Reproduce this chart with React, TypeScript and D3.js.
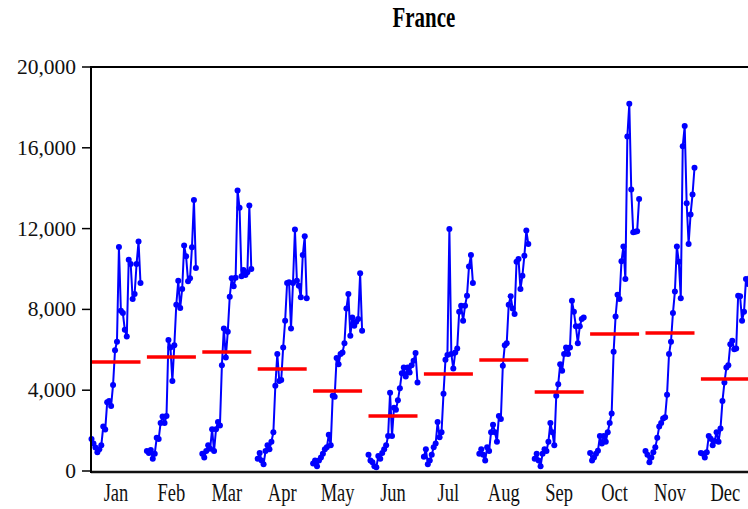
import React from 'react';
import * as d3 from 'd3';

// Month categories for the seasonal panels
const months = ['Jan', 'Feb', 'Mar', 'Apr', 'May', 'Jun', 'Jul', 'Aug', 'Sep', 'Oct', 'Nov', 'Dec'];

// Yearly observations for each calendar month, oldest first
const janValues = [1580, 1360, 1160, 930, 1080, 1270, 2200, 2050, 3400, 3460, 3220, 4260, 5980, 6400, 11090, 7930, 7820, 6990, 6660, 10460, 10250, 8510, 8760, 10250, 11360, 9310];
const febValues = [990, 890, 1040, 610, 860, 1640, 1580, 2380, 2700, 2380, 2720, 6480, 6120, 4460, 6230, 8230, 9420, 8070, 9010, 11160, 10630, 9390, 9540, 11080, 13420, 10050];
const marValues = [860, 670, 990, 1270, 1100, 2070, 990, 2070, 2420, 2250, 5240, 7060, 5620, 6890, 8630, 9540, 9140, 9570, 13890, 13030, 9640, 9950, 9700, 9840, 13140, 10000];
const aprValues = [610, 890, 520, 340, 990, 1270, 1080, 1450, 1920, 4220, 5790, 4460, 4510, 6120, 7440, 9310, 9340, 7060, 9310, 11950, 9420, 9170, 8600, 10690, 11620, 8550];
const mayValues = [370, 520, 240, 520, 670, 860, 1080, 1170, 1790, 1270, 3720, 3680, 5590, 5290, 5790, 5870, 6330, 8050, 8760, 6690, 7600, 7190, 7390, 7520, 9790, 6940];
const junValues = [800, 520, 430, 240, 190, 740, 610, 890, 1080, 1270, 1730, 3870, 1730, 3130, 3030, 3500, 4100, 4840, 5120, 4680, 5120, 4880, 5240, 5460, 5840, 4380];
const julValues = [710, 1080, 340, 520, 800, 1170, 1360, 2420, 1670, 1920, 3830, 5510, 5740, 11980, 5790, 5070, 5870, 6070, 7880, 8180, 7440, 8180, 8680, 10120, 10690, 9310];
const augValues = [860, 1080, 800, 520, 1170, 990, 1920, 2290, 1920, 1450, 2720, 2570, 5210, 6230, 6330, 8230, 8650, 8050, 7770, 10360, 10500, 9010, 9670, 10660, 11900, 11240];
const sepValues = [610, 860, 520, 240, 860, 1080, 990, 1450, 2380, 1920, 1270, 3720, 4300, 5290, 4960, 5790, 6120, 5790, 6120, 8430, 7880, 7160, 6330, 7160, 7520, 7600];
const octValues = [890, 520, 670, 860, 1000, 1730, 1360, 1730, 1450, 1920, 2380, 2850, 5900, 7650, 8730, 8510, 10380, 11120, 9500, 16560, 18180, 13940, 11820, 11850, 11870, 13470];
const novValues = [990, 800, 430, 670, 930, 1170, 1640, 2200, 2380, 2600, 2660, 3780, 5790, 6400, 7820, 8880, 11120, 10360, 8550, 16080, 17080, 13260, 11240, 12700, 13690, 15010];
const decValues = [890, 860, 670, 930, 1730, 1600, 1270, 1490, 1920, 1450, 2100, 3460, 4380, 5120, 5240, 6280, 6450, 6030, 6070, 8680, 8650, 7440, 7880, 9500, 9260, 9550];

// Mean level of each month across the years
const monthMeans = [5400, 5640, 5890, 5050, 3960, 2720, 4800, 5500, 3910, 6780, 6830, 4550];

// Y axis tick values
const yTicks = [0, 4000, 8000, 12000, 16000, 20000];

const seriesByMonth = [janValues, febValues, marValues, aprValues, mayValues, junValues, julValues, augValues, sepValues, octValues, novValues, decValues];

const FONT = '"Liberation Serif", "Times New Roman", serif';

export default function App() {
  const width = 748;
  const height = 509;
  const plotLeft = 91;
  const plotTop = 67;
  const plotBottom = 472;
  const panelWidth = 55.4;
  const plotRight = plotLeft + panelWidth * months.length;

  const x = d3.scaleBand<string>().domain(months).range([plotLeft, plotRight]).padding(0);
  const y = d3.scaleLinear().domain([0, 20000]).range([471, plotTop]);
  const fmt = d3.format(',');

  return (
    <svg
      width={width}
      height={height}
      style={{ position: 'absolute', left: 0, top: 0, background: '#fff' }}
      fontFamily={FONT}
    >
      <rect x={0} y={0} width={width} height={height} fill="#fff" />

      {/* title, drawn in a tall narrow face */}
      <g transform={`translate(${(plotLeft + plotRight) / 2 + 0.5},27) scale(0.95,1.35)`}>
        <text x={0} y={0} textAnchor="middle" fontSize={22} fontWeight="bold" fill="#000">
          France
        </text>
      </g>

      {/* seasonal sub-series */}
      {seriesByMonth.map((vals, m) => {
        const x0 = x(months[m]) as number;
        const xi = d3.scaleLinear().domain([0, vals.length - 1]).range([x0 + 0.5, x0 + 49.5]);
        const line = d3
          .line<number>()
          .x((_, i) => xi(i))
          .y((v) => y(v));
        return (
          <g key={months[m]}>
            <path d={line(vals) || ''} fill="none" stroke="#0000ff" strokeWidth={2} strokeLinejoin="round" />
            {vals.map((v, i) => (
              <circle key={i} cx={xi(i)} cy={y(v)} r={3} fill="#0000ff" />
            ))}
          </g>
        );
      })}

      {/* monthly means */}
      {monthMeans.map((mv, m) => {
        const x0 = x(months[m]) as number;
        return (
          <line key={m} x1={x0 + 0.5} x2={x0 + 49.5} y1={y(mv)} y2={y(mv)} stroke="#ff0000" strokeWidth={3.5} />
        );
      })}

      {/* frame */}
      <line x1={plotLeft} x2={plotRight + 5} y1={plotTop} y2={plotTop} stroke="#000" strokeWidth={2} />
      <line x1={plotLeft} x2={plotRight + 5} y1={plotBottom} y2={plotBottom} stroke="#111" strokeWidth={2.5} />
      <line x1={plotLeft} x2={plotLeft} y1={plotTop - 1} y2={plotBottom + 1} stroke="#000" strokeWidth={2} />

      {/* y axis ticks and labels */}
      {yTicks.map((t) => (
        <g key={t}>
          <line x1={82} x2={plotLeft} y1={y(t)} y2={y(t)} stroke="#000" strokeWidth={1.5} />
          <text x={76} y={y(t)} textAnchor="end" dominantBaseline="central" fontSize={21.5} fill="#111">
            {fmt(t)}
          </text>
        </g>
      ))}

      {/* month labels */}
      {months.map((mo) => (
        <g key={mo} transform={`translate(${(x(mo) as number) + 25},501) scale(0.95,1.3)`}>
          <text x={0} y={0} textAnchor="middle" fontSize={19.5} fill="#111">
            {mo}
          </text>
        </g>
      ))}
    </svg>
  );
}
